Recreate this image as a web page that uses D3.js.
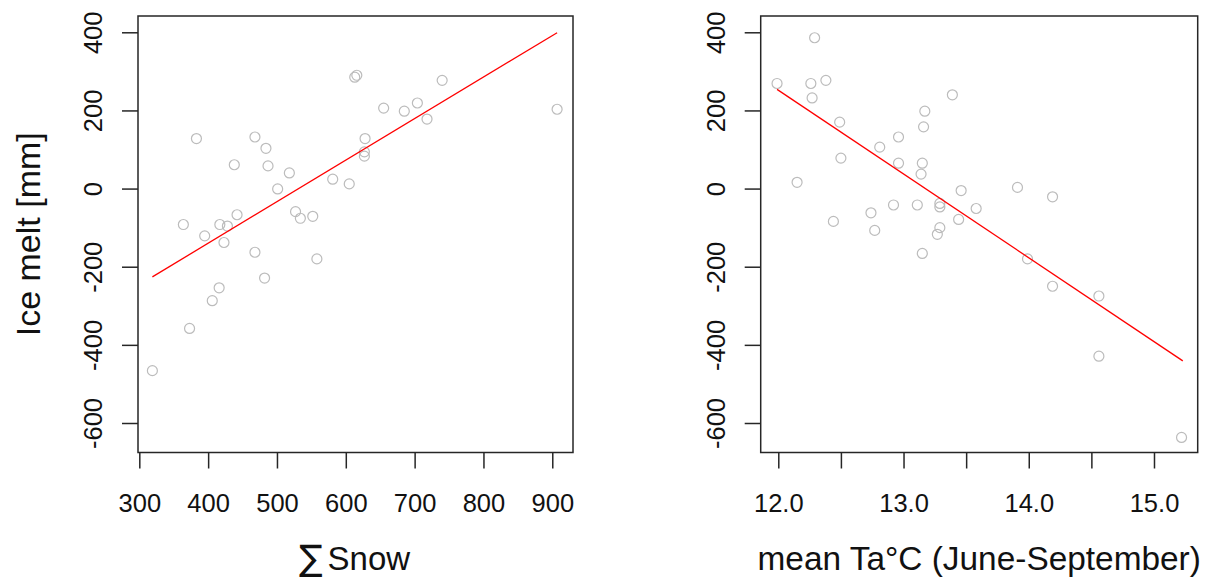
<!DOCTYPE html>
<html>
<head>
<meta charset="utf-8">
<script src="https://cdn.jsdelivr.net/npm/d3@7"></script>
<style>
  html, body { margin: 0; padding: 0; background: #fff; }
  svg { display: block; }
  text { font-family: "Liberation Sans", Arial, sans-serif; fill: #111; }
</style>
</head>
<body>
<svg id="chart" width="1211" height="577"></svg>
<script>
// ---------- data ----------
const snowX = [616, 613, 740, 655, 685, 704, 718, 907, 383, 468, 484, 438, 487, 518, 501, 581, 605, 628, 627, 627,
               442, 527, 534, 552, 364, 417, 428, 395, 423, 468, 558, 482, 416, 406, 373, 319];
const snowMelt = [290, 285, 277, 206, 198, 219, 178, 203, 128, 132, 103, 61, 58, 40, -1, 24, 12, 128, 94, 83,
                  -67, -59, -76, -71, -92, -92, -96, -121, -138, -163, -180, -229, -254, -287, -358, -466];

const tempX = [12.29, 11.99, 12.26, 12.38, 12.27, 13.39, 13.17, 13.16, 12.49, 12.96, 12.81, 12.50, 12.96, 13.15,
               13.14, 12.15, 13.91, 14.19, 13.46, 12.92, 13.11, 13.29, 13.29, 13.58, 12.74, 13.44, 12.44, 12.77,
               13.29, 13.27, 13.15, 13.99, 14.19, 14.56, 14.56, 15.22];
const tempMelt = [386, 269, 269, 277, 232, 240, 198, 158, 170, 132, 106, 78, 65, 65,
                  37, 16, 3, -21, -5, -42, -42, -38, -47, -51, -62, -79, -84, -107,
                  -100, -117, -166, -180, -250, -275, -429, -637];

// fitted regression lines (end points)
const fitSnowX = [319, 907];
const fitSnowY = [-226, 399];
const fitTempX = [11.99, 15.23];
const fitTempY = [254, -441];

// tick values
const snowTicks = [300, 400, 500, 600, 700, 800, 900];
const tempTicks = [12.0, 12.5, 13.0, 13.5, 14.0, 14.5, 15.0];
const meltTicks = [400, 200, 0, -200, -400, -600];

// ---------- layout ----------
const svg = d3.select("#chart");
svg.append("rect").attr("width", 1211).attr("height", 577).attr("fill", "#fff");

const plotTop = 16, plotBottom = 452.5;
const yScale = d3.scaleLinear().domain([-675.5, 441.7]).range([plotBottom, plotTop]);

const panels = [
  {
    left: 138, right: 573,
    x: d3.scaleLinear().domain([298.1, 930.1]).range([138, 573]),
    xs: snowX, ys: snowMelt, fx: fitSnowX, fy: fitSnowY,
    ticks: snowTicks, fmt: d => String(d)
  },
  {
    left: 760.7, right: 1197.7,
    x: d3.scaleLinear().domain([11.8595, 15.349]).range([760.7, 1197.7]),
    xs: tempX, ys: tempMelt, fx: fitTempX, fy: fitTempY,
    ticks: tempTicks, fmt: d => (Math.abs(d - Math.round(d)) < 1e-9 ? d.toFixed(1) : "")
  }
];

panels.forEach(p => {
  const g = svg.append("g");

  // points
  g.append("g").selectAll("circle")
    .data(p.xs.map((v, i) => [v, p.ys[i]]))
    .join("circle")
    .attr("cx", d => p.x(d[0]))
    .attr("cy", d => yScale(d[1]))
    .attr("r", 5)
    .attr("fill", "none")
    .attr("stroke", "#bcbcbc")
    .attr("stroke-width", 1.2);

  // fit line
  g.append("path")
    .datum(p.fx.map((v, i) => [v, p.fy[i]]))
    .attr("d", d3.line().x(d => p.x(d[0])).y(d => yScale(d[1])))
    .attr("fill", "none")
    .attr("stroke", "#ff0000")
    .attr("stroke-width", 1.3);

  // box
  g.append("rect")
    .attr("x", p.left).attr("y", plotTop)
    .attr("width", p.right - p.left).attr("height", plotBottom - plotTop)
    .attr("fill", "none").attr("stroke", "#262626").attr("stroke-width", 1.5);

  // x axis
  const xa = g.append("g")
    .attr("transform", `translate(0,${plotBottom})`)
    .call(d3.axisBottom(p.x).tickValues(p.ticks).tickSize(16).tickFormat(p.fmt));
  xa.select(".domain").remove();
  xa.selectAll(".tick line").attr("stroke", "#262626").attr("stroke-width", 1.5);
  xa.selectAll(".tick text")
    .attr("y", 59.5).attr("dy", 0)
    .attr("font-size", 25.5)
    .attr("font-family", "'Liberation Sans', Arial, sans-serif")
    .attr("fill", "#111");

  // y axis
  const ya = g.append("g")
    .attr("transform", `translate(${p.left},0)`)
    .call(d3.axisLeft(yScale).tickValues(meltTicks).tickSize(16).tickFormat(d => String(d)));
  ya.select(".domain").remove();
  ya.selectAll(".tick line").attr("stroke", "#262626").attr("stroke-width", 1.5);
  ya.selectAll(".tick text")
    .attr("x", null).attr("dy", 0)
    .attr("transform", "translate(-36,0) rotate(-90)")
    .attr("text-anchor", "middle")
    .attr("font-size", 25.5)
    .attr("font-family", "'Liberation Sans', Arial, sans-serif")
    .attr("fill", "#111");
});

// axis titles
svg.append("text")
  .attr("transform", `translate(40,${(plotTop + plotBottom) / 2}) rotate(-90)`)
  .attr("text-anchor", "middle")
  .attr("font-size", 34)
  .text("Ice melt [mm]");

const xlab1 = svg.append("text")
  .attr("x", (138 + 573) / 2 - 1)
  .attr("y", 570)
  .attr("text-anchor", "middle")
  .attr("font-size", 33);
xlab1.append("tspan").attr("font-family", "'DejaVu Sans', sans-serif").attr("font-size", 35).text("∑");
xlab1.append("tspan").attr("dx", 5).text("Snow");

svg.append("text")
  .attr("x", (760.7 + 1197.7) / 2)
  .attr("y", 570)
  .attr("text-anchor", "middle")
  .attr("font-size", 33.4)
  .text("mean Ta°C (June-September)");
</script>
</body>
</html>
